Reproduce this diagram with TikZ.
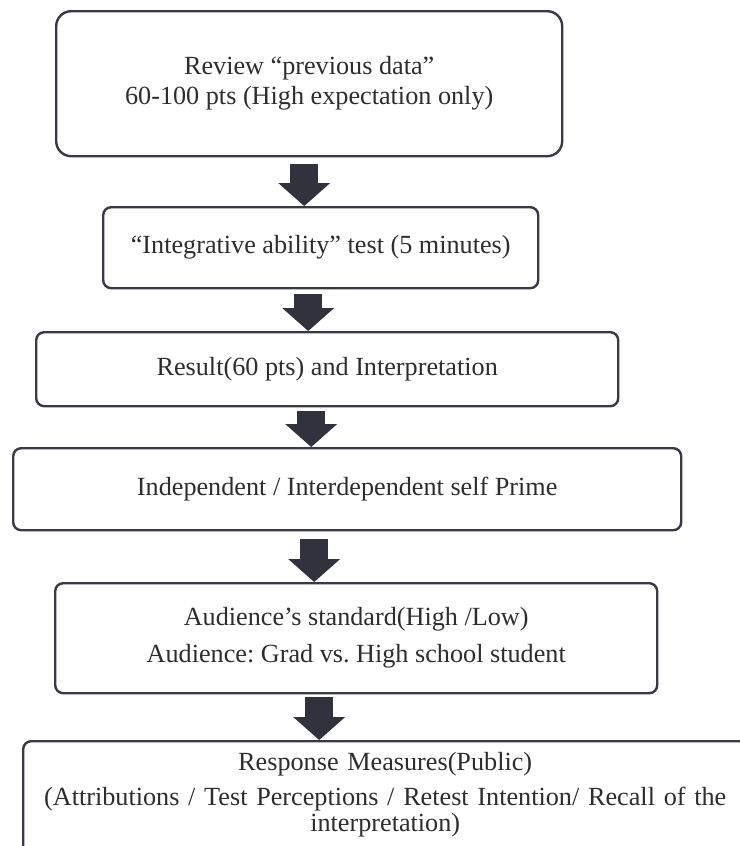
\documentclass[tikz,border=0pt]{standalone}
\usepackage{fontspec}
\setmainfont{Liberation Serif}
\usetikzlibrary{arrows.meta}
\definecolor{boxgray}{RGB}{58,58,70}
\definecolor{arrowgray}{RGB}{50,50,62}
\definecolor{textgray}{RGB}{45,45,45}
\frenchspacing

\begin{document}
\begin{tikzpicture}[x=1pt,y=-1pt]
\tikzset{stage/.style={draw=boxgray,line width=2.4pt,rounded corners=8pt,align=center,
    inner sep=0pt,anchor=north west,text=textgray,font=\fontsize{26.2}{30}\selectfont},
  flow/.style={draw=arrowgray,line width=28pt,-{Triangle[width=52pt,length=23pt,line width=0pt]}}}
\useasboundingbox (0,0) rectangle (739,846);

\node[stage,rounded corners=15pt,minimum width=506pt,minimum height=145pt] (review) at (55,10)
  {Review “previous data”\\60-100 pts (High expectation only)};
\node[stage,minimum width=435pt,minimum height=81pt] (ability) at (102,206)
  {“Integrative ability” test (5 minutes)};
\node[stage,minimum width=582pt,minimum height=74pt] (result) at (35,331)
  {Result(60 pts) and Interpretation};
\node[stage,minimum width=668pt,minimum height=82pt] (prime) at (12,447)
  {Independent / Interdependent self Prime};
\node[stage,minimum width=602pt,minimum height=110pt,font=\fontsize{26.2}{37}\selectfont] (audience) at (54,582)
  {Audience’s standard(High /Low)\\Audience: Grad vs. High school student};
% last box runs off the page
\node[stage,text width=700pt,inner xsep=12pt,inner ysep=11pt,text depth=80pt,font=\fontsize{26.2}{26}\selectfont] (response) at (22,740)
  {Response Measures(Public)\\[9pt](Attributions / Test Perceptions / Retest Intention/ Recall of the\\interpretation)};

\draw[flow] ([xshift=-5pt,yshift=-7pt]review.south) -- ([xshift=-5pt]review.south |- ability.north);
\draw[flow] ([xshift=-12.5pt,yshift=-5pt]ability.south) -- ([xshift=-12.5pt]ability.south |- result.north);
\draw[flow] ([xshift=-16pt,yshift=-4pt]result.south) -- ([xshift=-16pt]result.south |- prime.north);
\draw[flow] ([xshift=-33pt,yshift=-8pt]prime.south) -- ([xshift=-33pt]prime.south |- audience.north);
\draw[flow] ([xshift=-37pt,yshift=-3pt]audience.south) -- ([xshift=-37pt]audience.south |- response.north);
\end{tikzpicture}
\end{document}
